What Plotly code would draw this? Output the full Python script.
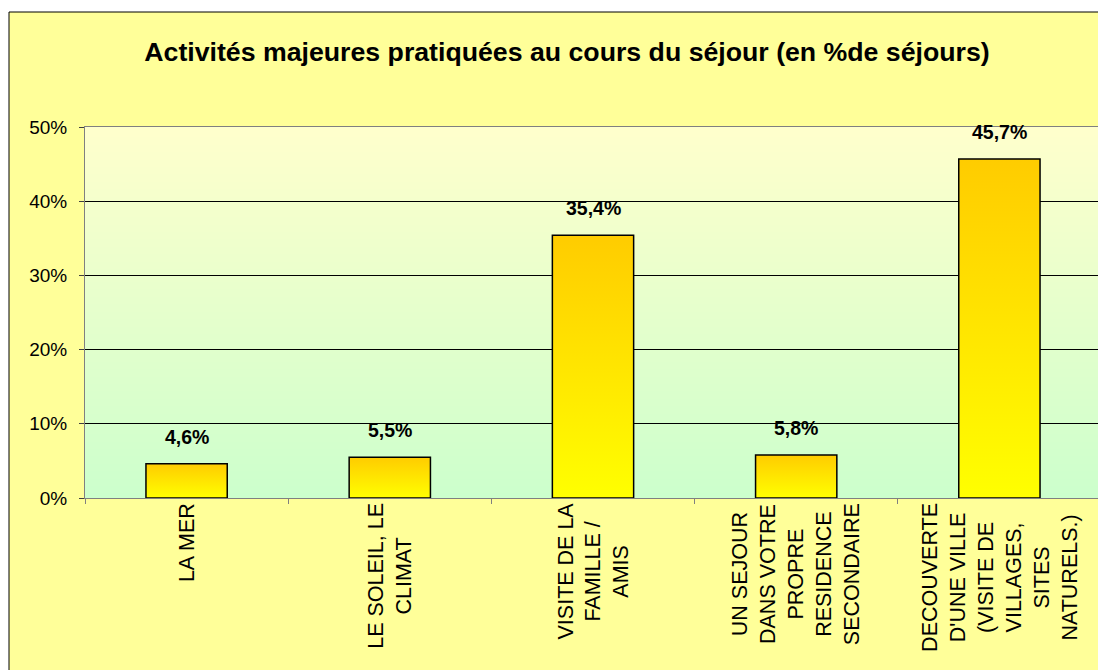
import zlib, struct, base64
import plotly.graph_objects as go

# ---- data ----
categories = [
    "LA MER",
    "LE SOLEIL, LE<br>CLIMAT",
    "VISITE DE LA<br>FAMILLE /<br>AMIS",
    "UN SEJOUR<br>DANS VOTRE<br>PROPRE<br>RESIDENCE<br>SECONDAIRE",
    "DECOUVERTE<br>D'UNE VILLE<br>(VISITE DE<br>VILLAGES,<br>SITES<br>NATURELS.)",
]
values = [4.6, 5.5, 35.4, 5.8, 45.7]
value_labels = ["4,6%", "5,5%", "35,4%", "5,8%", "45,7%"]
y_ticks = [0, 10, 20, 30, 40, 50]
y_tick_labels = ["0%", "10%", "20%", "30%", "40%", "50%"]
y_range = [0, 50]
title_text = "Activités majeures pratiquées au cours du séjour (en %de séjours)"

FONT = "Arial, Liberation Sans, sans-serif"
BAR_HALF = 0.2
# page body has an 8px margin, so the figure is placed at (8, 8)
W, H = 1098, 662
L, R, T, B = 77, 5, 119, 172
pw, ph = W - L - R, H - T - B


def png_vertical_gradient(top, bottom, h=200):
    raw = b""
    for i in range(h):
        t = i / (h - 1)
        c = bytes(round(top[k] + (bottom[k] - top[k]) * t) for k in range(3))
        raw += b"\x00" + c + c
    def chunk(tag, data):
        return struct.pack(">I", len(data)) + tag + data + struct.pack(">I", zlib.crc32(tag + data) & 0xFFFFFFFF)
    ihdr = struct.pack(">IIBBBBB", 2, h, 8, 2, 0, 0, 0)
    png = b"\x89PNG\r\n\x1a\n" + chunk(b"IHDR", ihdr) + chunk(b"IDAT", zlib.compress(raw)) + chunk(b"IEND", b"")
    return "data:image/png;base64," + base64.b64encode(png).decode()


fig = go.Figure()

# bars as filled shapes with vertical gradient (one trace per bar)
for i, v in enumerate(values):
    fig.add_trace(go.Scatter(
        x=[i - BAR_HALF, i + BAR_HALF, i + BAR_HALF, i - BAR_HALF, i - BAR_HALF],
        y=[0, 0, v, v, 0],
        mode="lines",
        fill="toself",
        fillgradient=dict(type="vertical", colorscale=[[0, "#FFFF00"], [1, "#FFCC00"]]),
        line=dict(color="black", width=1.5),
        hoverinfo="skip",
        showlegend=False,
    ))

annotations = []
for i, (v, lab) in enumerate(zip(values, value_labels)):
    annotations.append(dict(
        x=i, y=v, xref="x", yref="y", text=f"<b>{lab}</b>", showarrow=False,
        yanchor="bottom", yshift=14, font=dict(family=FONT, size=19.5, color="black"),
    ))
for i, cat in enumerate(categories):
    annotations.append(dict(
        x=i, y=0, xref="x", yref="paper", text=cat, showarrow=False,
        textangle=-90, align="center", yanchor="top", xanchor="center", yshift=-3,
        font=dict(family=FONT, size=21.5, color="black"),
    ))

# outer chart frame (left and top edges visible; right/bottom run past the page)
x0 = (1 - L) / pw
x1 = (W + 30 - L) / pw
y1 = (H - B - 4) / ph
y0 = (H - B - (H + 30)) / ph

fig.update_layout(
    width=W, height=H,
    margin=dict(l=L, r=R, t=T, b=B, pad=0),
    paper_bgcolor="white",
    plot_bgcolor="rgba(0,0,0,0)",
    showlegend=False,
    title=dict(text=f"<b>{title_text}</b>", x=559 / W, xanchor="center", xref="container",
               y=1 - 44 / H, yanchor="middle", yref="container",
               font=dict(family=FONT, size=26.7, color="black")),
    shapes=[dict(type="rect", xref="paper", yref="paper", x0=x0, x1=x1, y0=y0, y1=y1,
                 fillcolor="#FFFF99", line=dict(color="black", width=1), layer="below")],
    images=[dict(source=png_vertical_gradient((255, 255, 204), (204, 255, 204)),
                 xref="x", yref="y", x=-0.5, y=y_range[1], sizex=len(values), sizey=y_range[1] - y_range[0],
                 sizing="stretch", layer="below", xanchor="left", yanchor="top")],
    annotations=annotations,
)

fig.update_xaxes(
    range=[-0.5, len(values) - 0.5],
    tickvals=[i - 0.5 for i in range(len(values) + 1)],
    ticktext=[""] * (len(values) + 1),
    showgrid=False, zeroline=False,
    showline=True, linecolor="#808080", linewidth=1, mirror=True,
    ticks="outside", ticklen=5, tickcolor="#808080",
)
fig.update_yaxes(
    range=y_range, tickvals=y_ticks, ticktext=y_tick_labels,
    showgrid=True, gridcolor="black", gridwidth=1, zeroline=False,
    showline=True, linecolor="#808080", linewidth=1, mirror=True,
    ticks="outside", ticklen=5, tickcolor="#404040",
    tickfont=dict(family=FONT, size=19, color="black"),
    ticklabelstandoff=8,
)

fig.write_html(
    "out.html",
    post_script="document.documentElement.style.overflow='hidden';document.body.style.overflow='hidden';",
)
